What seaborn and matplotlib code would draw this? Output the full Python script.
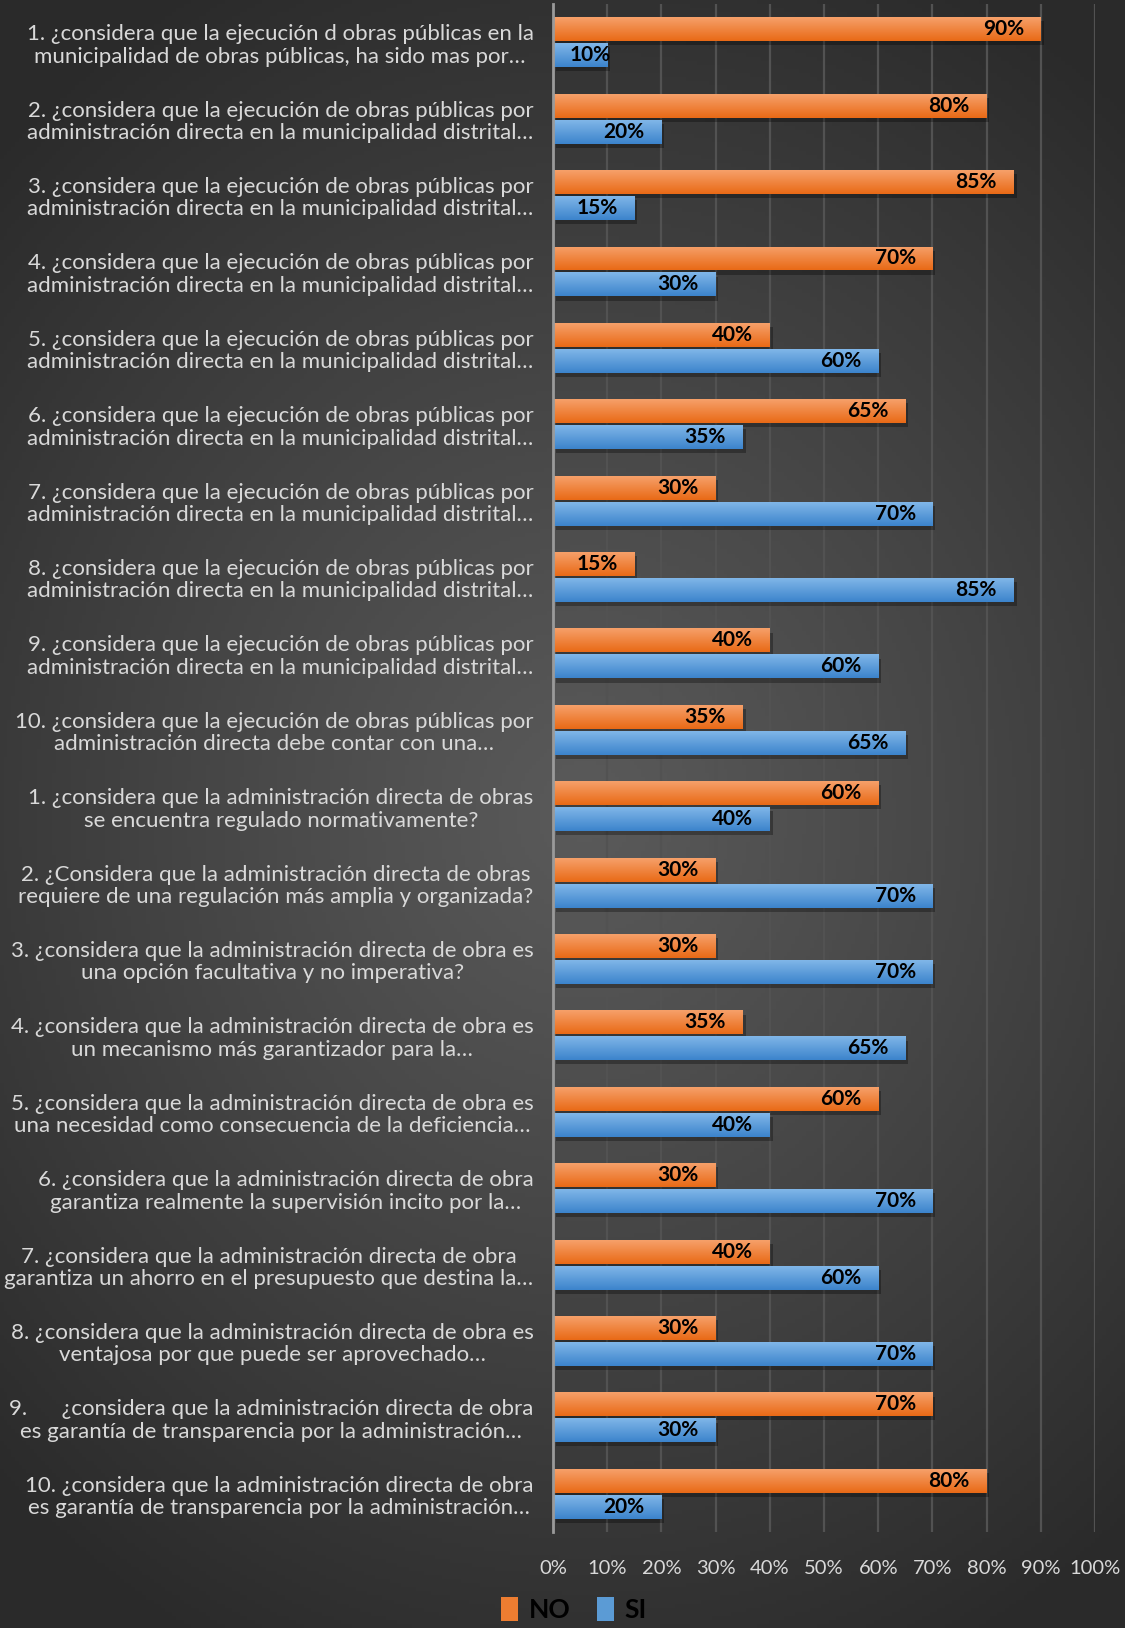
import numpy as np
import pandas as pd
import matplotlib
matplotlib.use("Agg")
import matplotlib.pyplot as plt
import seaborn as sns
from matplotlib.patches import Patch
from matplotlib import patheffects as pe

# -------------------
# Data
# -------------------
preguntas = [
    "1. ¿considera que la ejecución d obras públicas en la\nmunicipalidad de obras públicas, ha sido mas por…",
    "2. ¿considera que la ejecución de obras públicas por\nadministración directa en la municipalidad distrital…",
    "3. ¿considera que la ejecución de obras públicas por\nadministración directa en la municipalidad distrital…",
    "4. ¿considera que la ejecución de obras públicas por\nadministración directa en la municipalidad distrital…",
    "5. ¿considera que la ejecución de obras públicas por\nadministración directa en la municipalidad distrital…",
    "6. ¿considera que la ejecución de obras públicas por\nadministración directa en la municipalidad distrital…",
    "7. ¿considera que la ejecución de obras públicas por\nadministración directa en la municipalidad distrital…",
    "8. ¿considera que la ejecución de obras públicas por\nadministración directa en la municipalidad distrital…",
    "9. ¿considera que la ejecución de obras públicas por\nadministración directa en la municipalidad distrital…",
    "10. ¿considera que la ejecución de obras públicas por\nadministración directa debe contar con una…",
    "1. ¿considera que la administración directa de obras\nse encuentra regulado normativamente?",
    "2. ¿Considera que la administración directa de obras\nrequiere de una regulación más amplia y organizada?",
    "3. ¿considera que la administración directa de obra es\nuna opción facultativa y no imperativa?",
    "4. ¿considera que la administración directa de obra es\nun mecanismo más garantizador para la…",
    "5. ¿considera que la administración directa de obra es\nuna necesidad como consecuencia de la deficiencia…",
    "6. ¿considera que la administración directa de obra\ngarantiza realmente la supervisión incito por la…",
    "7. ¿considera que la administración directa de obra\ngarantiza un ahorro en el presupuesto que destina la…",
    "8. ¿considera que la administración directa de obra es\nventajosa por que puede ser aprovechado…",
    "9.      ¿considera que la administración directa de obra\nes garantía de transparencia por la administración…",
    "10. ¿considera que la administración directa de obra\nes garantía de transparencia por la administración…",
]
no_vals = [90, 80, 85, 70, 40, 65, 30, 15, 40, 35, 60, 30, 30, 35, 60, 30, 40, 30, 70, 80]
si_vals = [10, 20, 15, 30, 60, 35, 70, 85, 60, 65, 40, 70, 70, 65, 40, 70, 60, 70, 30, 20]
respuestas = ["NO", "SI"]
x_ticks = [0, 10, 20, 30, 40, 50, 60, 70, 80, 90, 100]

# unique keys for the categorical axis (label text may repeat)
keys = [f"q{i:02d}" for i in range(len(preguntas))]
df = pd.DataFrame({
    "key": keys * 2,
    "valor": no_vals + si_vals,
    "resp": ["NO"] * len(keys) + ["SI"] * len(keys),
})

colors = {"NO": "#ED7D31", "SI": "#5B9BD5"}
grad = {"NO": ("#F6A06A", "#E96A16"), "SI": ("#80B6E8", "#3C84CC")}

# -------------------
# Style
# -------------------
sns.set_theme(style="white")
plt.rcParams["font.family"] = ["Lato", "DejaVu Sans"]

fig = plt.figure(figsize=(11.25, 16.28), dpi=100)

# radial dark background
bg = fig.add_axes([0, 0, 1, 1], zorder=-10)
yy, xx = np.mgrid[0:1:400j, 0:1:300j]
r = np.sqrt(((xx - 0.52) / 0.75) ** 2 + ((yy - 0.50) / 0.58) ** 2)
r = np.clip(r, 0, 1)
shade = 0x5a - (0x5a - 0x2a) * r ** 1.1
img = np.dstack([shade, shade, shade]) / 255.0
bg.imshow(img, extent=[0, 1, 0, 1], aspect="auto", origin="lower")
bg.axis("off")

ax = fig.add_axes([0.4916, 0.0590, 0.4818, 0.9385])
ax.set_facecolor("none")

sns.barplot(data=df, y="key", x="valor", hue="resp", hue_order=respuestas,
            order=keys, orient="h", palette=colors, width=0.68, gap=0.08,
            ax=ax, legend=False, saturation=1, linewidth=0)

ax.set_xlim(0, 100)
ax.set_ylim(len(keys) - 0.5, -0.5)
xlim, ylim = ax.get_xlim(), ax.get_ylim()

# gradient fill + soft shadow on each bar
for p, resp in zip(ax.patches, ["NO"] * len(keys) + ["SI"] * len(keys)):
    x0, y0, w, h = p.get_x(), p.get_y(), p.get_width(), p.get_height()
    if w <= 0:
        continue
    top, bot = matplotlib.colors.to_rgb(grad[resp][0]), matplotlib.colors.to_rgb(grad[resp][1])
    t = np.linspace(0, 1, 50)[:, None, None]
    g = np.array(top)[None, None, :] * (1 - t) + np.array(bot)[None, None, :] * t
    p.set_edgecolor("none")
    p.set_path_effects([pe.SimplePatchShadow(offset=(2, -3), alpha=0.3, shadow_rgbFace="black"),
                        pe.Normal()])
    im = ax.imshow(g, extent=(x0, x0 + w, y0 + h, y0), aspect="auto",
                   origin="upper", zorder=p.get_zorder() + 0.1)
    im.set_clip_path(p)
ax.set_xlim(xlim)
ax.set_ylim(ylim)

# data labels (inside end)
pad = 3.1
for i in range(len(keys)):
    for val, off in [(no_vals[i], -0.17), (si_vals[i], 0.17)]:
        if val >= 15:
            ax.text(val - pad, i + off, f"{val}%", ha="right", va="center",
                    fontsize=15, fontweight="bold", color="black", zorder=5)
        else:
            ax.text(pad, i + off, f"{val}%", ha="left", va="center",
                    fontsize=15, fontweight="bold", color="black", zorder=5)

ax.set_xticks(x_ticks)
ax.set_xticklabels([f"{v}%" for v in x_ticks])
ax.set_yticks(range(len(keys)))
ax.set_yticklabels(preguntas, multialignment="center", linespacing=1.15)
ax.tick_params(axis="x", length=0, pad=20, labelsize=14.5, labelcolor="#D9D9D9")
ax.tick_params(axis="y", length=0, pad=14, labelsize=16, labelcolor="#D9D9D9")
ax.set_xlabel("")
ax.set_ylabel("")

ax.xaxis.grid(True, color="#525252", linewidth=1.6)
ax.yaxis.grid(False)
ax.set_axisbelow(True)
for s in ["top", "right", "bottom"]:
    ax.spines[s].set_visible(False)
ax.spines["left"].set_color("#9a9a9a")
ax.spines["left"].set_linewidth(2)
ax.spines["left"].set_zorder(6)

handles = [Patch(facecolor=colors[k], edgecolor="none", label=k) for k in respuestas]
leg = fig.legend(handles=handles, loc="lower center", bbox_to_anchor=(0.51, -0.007),
                 ncol=2, frameon=False, handlelength=0.65, handleheight=1.0,
                 handletextpad=0.4, columnspacing=1.0, borderpad=0.15,
                 prop={"size": 19, "weight": "bold"})
for txt in leg.get_texts():
    txt.set_color("black")

fig.savefig("out.png", dpi=100)
